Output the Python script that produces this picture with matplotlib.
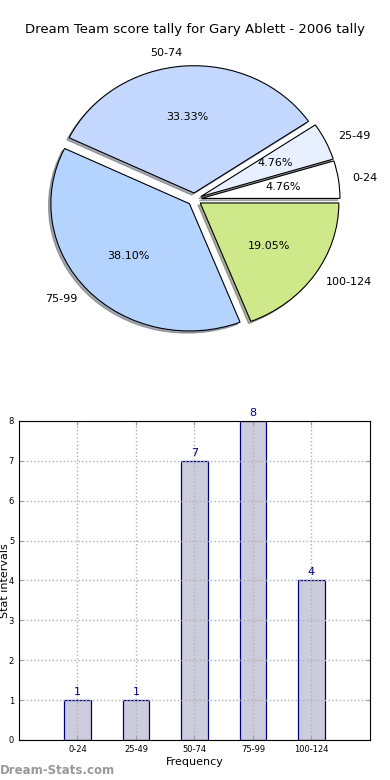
import matplotlib
matplotlib.use('Agg')
import matplotlib.pyplot as plt

# score ranges and how many games fell in each
categories = ['0-24', '25-49', '50-74', '75-99', '100-124']
counts = [1, 1, 7, 8, 4]
pie_colors = ['#ffffff', '#e8f0ff', '#c4d8ff', '#b4d4ff', '#cfe98a']

fig = plt.figure(figsize=(3.9, 7.8), dpi=100)

# --- pie of the tally ---
ax1 = fig.add_axes([0.0545, 0.5404, 0.8885, 0.408])
wedges, texts, autotexts = ax1.pie(counts, labels=categories, colors=pie_colors,
                                   explode=[0.05] * len(counts), autopct='%1.2f%%',
                                   shadow={'ox': -0.012, 'oy': -0.012, 'shade': 0.6},
                                   startangle=0,
                                   wedgeprops={'edgecolor': 'black', 'linewidth': 0.8},
                                   textprops={'fontsize': 8})
ax1.set_aspect('auto')
ax1.set_xlim(-1.25, 1.25)
ax1.set_ylim(-1.25, 1.25)

fig.text(0.5, 1 - 30 / 780, 'Dream Team score tally for Gary Ablett - 2006 tally',
         ha='center', va='center', fontsize=9.5)

# --- bar chart of the same counts ---
ax2 = fig.add_axes([0.0487, 0.0513, 0.9, 0.409])
x = list(range(len(categories)))
bars = ax2.bar(x, counts, width=0.45, color='#ccccdd', edgecolor='navy', linewidth=0.9,
               zorder=1)
for xi, c in zip(x, counts):
    ax2.text(xi, c + 0.08, str(c), ha='center', va='bottom', color='navy', fontsize=8)

ax2.set_xlim(-1, 5)
ax2.set_ylim(0, 8)
ax2.set_xticks(x)
ax2.set_xticklabels(categories, fontsize=6)
ax2.set_yticks(range(0, 9))
ax2.tick_params(axis='y', labelsize=6)
ax2.tick_params(direction='in', top=True, right=True, length=3, color='#999999')
ax2.set_axisbelow('line')
ax2.grid(True, linestyle=':', color='#b0b0b0', linewidth=1.0)
ax2.set_xlabel('Frequency', fontsize=8, labelpad=2)
ax2.set_ylabel('Stat intervals', fontsize=8)
ax2.yaxis.set_label_coords(-0.025, 0.5)

fig.text(0.0, 1 - 771 / 780, 'Dream-Stats.com', ha='left', va='center',
         fontsize=8.5, color='#999999', fontweight='bold')

fig.savefig('out.png', dpi=100)
